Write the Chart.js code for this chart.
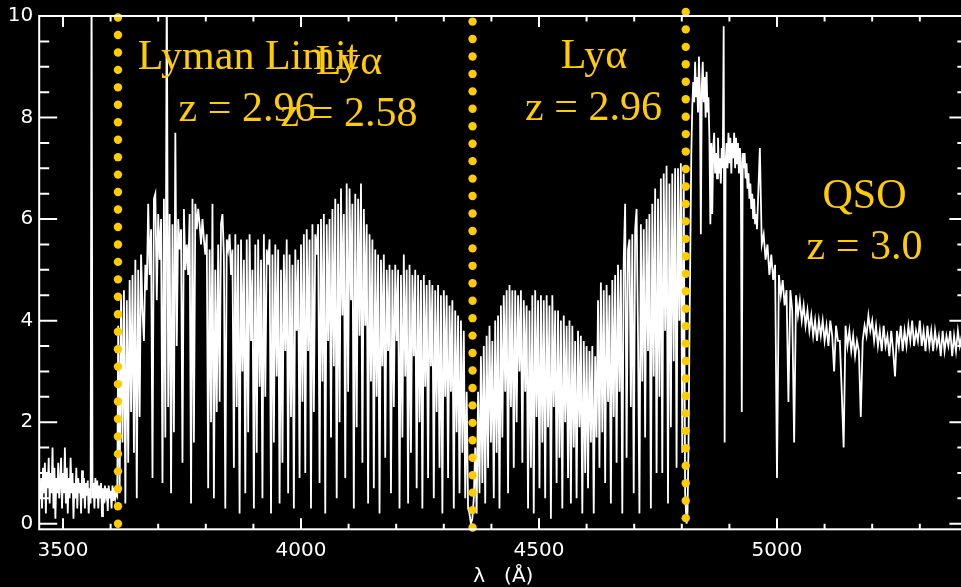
<!DOCTYPE html>
<html>
<head>
<meta charset="utf-8">
<title>QSO spectrum, z = 3.0</title>
<script src="https://cdn.jsdelivr.net/npm/chart.js@4.4.1/dist/chart.umd.min.js"></script>
<style>
	html, body { margin: 0; padding: 0; background: #000; overflow: hidden; }
	#spectrum { display: block; }
</style>
</head>
<body>
<canvas id="spectrum" width="975" height="587"></canvas>
<script>

// flux blueward of the Lyman limit, 2 A bins from 3452 A
var blueStart = 3452, blueStep = 2;
var fluxBlue = [
	0.5, 0.9, 0.3, 1.1, 0.6, 1.2, 0.2, 1.0, 0.7, 1.3,	// 3452
	0.4, 1.0, 0.6, 1.5, 0.3, 1.1, 0.1, 0.9, 0.6, 1.2,	// 3472
	0.5, 0.8, 1.3, 0.3, 1.0, 0.6, 1.5, 0.4, 1.1, 0.2,	// 3492
	0.9, 0.5, 1.3, 0.6, 1.0, 0.1, 0.8, 0.5, 1.1, 0.3,	// 3512
	0.9, 0.6, 0.8, 0.2, 1.05, 0.5, 0.9, 0.3, 0.8, 0.55,	// 3532
	0.85, 0.2, 0.7, 0.4, 11.0, 0.5, 0.8, 0.3, 0.9, 0.5,	// 3552
	0.85, 0.3, 0.75, 0.5, 0.8, 0.15, 0.7, 0.4, 0.75, 0.55,	// 3572
	0.7, 0.25, 0.75, 0.5, 0.65, 0.3, 0.75, 0.45, 0.7, 0.5,	// 3592
	0.6, 0.55	// 3612
];

// Lyman alpha forest, 3 A bins from 3616 A
var forestStart = 3616, forestStep = 3;
var fluxForest = [
	3.9, 0.6, 4.5, 1.6, 4.6, 0.4, 4.4, 1.2, 4.8, 2.2,	// 3616
	4.9, 1.4, 5.2, 0.5, 5.0, 2.1, 5.3, 4.2, 3.6, 5.1,	// 3646
	4.6, 6.3, 4.9, 5.8, 0.9, 6.4, 6.5, 4.4, 6.1, 5.2,	// 3676
	6.0, 0.8, 6.4, 1.7, 11.0, 2.3, 6.1, 0.6, 5.9, 1.8,	// 3706
	7.7, 3.5, 6.0, 5.4, 5.8, 1.2, 6.2, 5.0, 5.5, 4.9,	// 3736
	6.1, 0.4, 6.4, 1.6, 6.3, 5.8, 6.2, 5.9, 5.5, 6.0,	// 3766
	5.6, 5.3, 5.7, 0.7, 5.4, 2.0, 6.3, 0.5, 5.0, 2.2,	// 3796
	5.5, 2.4, 5.9, 6.1, 5.3, 0.3, 5.6, 5.4, 5.7, 4.9,	// 3826
	5.4, 1.1, 5.7, 2.3, 5.5, 0.2, 5.6, 3.0, 5.2, 0.6,	// 3856
	5.6, 1.8, 5.7, 3.6, 5.0, 0.3, 5.5, 1.4, 5.6, 2.7,	// 3886
	5.2, 0.5, 5.7, 2.5, 5.4, 5.1, 5.6, 0.2, 5.3, 1.6,	// 3916
	5.5, 2.9, 5.4, 0.4, 5.0, 1.2, 5.3, 3.4, 5.6, 0.6,	// 3946
	5.3, 2.1, 5.1, 0.3, 5.4, 3.8, 5.2, 0.9, 5.5, 2.4,	// 3976
	5.7, 1.0, 5.8, 3.4, 5.6, 0.3, 5.9, 2.2, 5.7, 5.3,	// 4006
	5.9, 0.8, 6.0, 2.8, 6.1, 0.2, 5.9, 3.6, 6.0, 1.7,	// 4036
	6.2, 3.1, 6.4, 0.5, 6.3, 2.0, 6.6, 4.1, 6.1, 0.9,	// 4066
	6.7, 2.6, 6.6, 4.4, 6.3, 0.3, 6.5, 1.9, 6.4, 3.7,	// 4096
	6.7, 1.2, 6.2, 3.9, 5.9, 0.4, 5.7, 2.8, 5.6, 0.7,	// 4126
	5.4, 2.5, 5.3, 0.2, 5.2, 3.1, 5.3, 1.3, 5.0, 3.4,	// 4156
	5.1, 0.6, 5.0, 2.3, 5.1, 3.6, 5.0, 0.3, 4.9, 1.7,	// 4186
	5.3, 2.9, 5.0, 0.4, 5.1, 1.4, 4.9, 3.3, 5.0, 0.7,	// 4216
	4.9, 2.0, 4.8, 0.3, 4.9, 2.7, 4.7, 0.9, 4.8, 3.1,	// 4246
	4.7, 0.5, 4.6, 2.2, 4.7, 1.1, 4.5, 0.2, 4.6, 2.5,	// 4276
	4.5, 0.9, 4.3, 2.6, 4.4, 0.3, 4.2, 1.8, 4.1, 0.6,	// 4306
	4.0, 1.4, 3.8, 0.5, 2.6, 0.3, 0.2, 0.0	// 4336
];

// between Ly alpha at z = 2.58 and the QSO's own Ly alpha, 3 A bins from 4360 A
var midStart = 4360, midStep = 3;
var fluxMid = [
	0.1, 0.5, 1.5, 0.2, 2.6, 0.6, 3.3, 0.8, 3.5, 0.4,	// 4360
	3.7, 1.1, 3.9, 1.6, 3.6, 0.5, 4.0, 1.4, 4.1, 0.3,	// 4390
	4.3, 1.7, 4.5, 2.6, 4.6, 0.6, 4.7, 2.3, 4.6, 1.1,	// 4420
	4.6, 2.0, 4.5, 3.0, 4.6, 1.2, 4.4, 2.6, 4.3, 0.3,	// 4450
	4.2, 1.1, 4.5, 0.2, 4.6, 2.1, 4.4, 0.7, 4.5, 1.6,	// 4480
	4.4, 0.5, 4.5, 1.9, 4.3, 0.1, 4.5, 2.3, 4.2, 0.8,	// 4510
	4.2, 1.3, 4.0, 0.3, 4.1, 2.0, 3.9, 0.9, 4.0, 0.4,	// 4540
	3.9, 1.5, 3.6, 0.5, 3.8, 1.9, 3.7, 0.2, 3.6, 1.0,	// 4570
	3.5, 0.7, 3.4, 1.6, 3.5, 0.2, 3.3, 1.7, 4.4, 1.1,	// 4600
	4.75, 1.8, 4.6, 0.8, 4.7, 2.4, 4.5, 0.4, 4.8, 2.1,	// 4630
	4.9, 1.2, 5.1, 2.6, 5.0, 0.2, 5.2, 6.3, 1.3, 5.4,	// 4660
	5.6, 2.3, 5.7, 0.6, 5.8, 6.2, 3.7, 0.2, 5.9, 2.8,	// 4690
	5.8, 1.7, 6.0, 3.4, 6.1, 0.3, 6.3, 2.9, 6.6, 1.0,	// 4720
	6.4, 2.5, 6.8, 1.0, 6.9, 3.8, 7.05, 0.4, 6.7, 1.9,	// 4750
	6.9, 3.2, 7.0, 1.1, 7.0, 4.0, 7.1, 1.4, 6.9, 0.6, 0.0	// 4780
];

// QSO Ly alpha emission peak, 2 A bins from 4812 A
var peakStart = 4812, peakStep = 2;
var fluxPeak = [
	0.2, 1.5, 3.6, 5.5, 7.3, 8.2, 8.7, 8.3, 9.1, 8.4,	// 4812
	8.8, 8.1, 9.2, 8.5, 5.7, 8.6, 9.1, 8.3, 8.8, 8.0,	// 4832
	8.9, 8.1, 8.4, 7.6, 5.9, 7.5, 6.1, 7.4, 7.7, 6.9,	// 4852
	7.3, 6.8, 7.6, 6.9, 7.2, 6.7, 7.4, 7.0, 9.8, 1.6,	// 4872
	7.1, 7.5, 7.0, 7.7, 7.1, 7.6, 6.9, 7.5, 7.2, 7.7,	// 4892
	7.0, 7.6, 7.1, 7.5, 6.9, 7.4, 7.1, 2.2, 7.3, 7.0,	// 4912
	7.3, 6.8, 7.1, 6.6, 6.9, 6.4, 6.7, 6.2, 6.5, 6.0,	// 4932
	6.4, 5.9, 6.1, 5.8	// 4952
];

// red continuum, 4 A bins from 4960 A
var redStart = 4960, redStep = 4;
var fluxRed = [
	5.8, 7.4, 5.5,	// 4960
	5.7, 5.2, 5.5, 4.9, 5.3, 4.8, 5.1, 0.9, 4.9, 4.5,	// 4972
	4.8, 4.3, 4.6, 2.4, 4.6, 4.2, 1.6, 4.5, 4.1, 4.4,	// 5012
	4.0, 4.3, 3.9, 4.2, 3.8, 4.1, 3.7, 4.0, 3.6, 4.0,	// 5052
	3.7, 4.0, 3.6, 3.9, 3.5, 4.0, 3.7, 3.0, 3.9, 3.6,	// 5092
	3.6, 2.6, 1.5, 3.9, 3.5, 3.8, 3.4, 3.7, 3.3, 3.6,	// 5132
	3.4, 2.1, 3.6, 3.9, 3.7, 4.1, 3.8, 4.0, 3.6, 3.9,	// 5172
	3.5, 3.8, 3.4, 3.9, 3.5, 3.7, 3.3, 3.8, 3.4, 2.9,	// 5212
	3.8, 3.5, 3.9, 3.4, 3.8, 3.5, 3.9, 3.6, 4.0, 3.5,	// 5252
	3.8, 3.6, 4.0, 3.5, 3.8, 3.4, 3.9, 3.5, 3.8, 3.4,	// 5292
	3.8, 3.5, 3.7, 3.3, 3.8, 3.4, 3.7, 3.5, 3.8, 3.3,	// 5332
	3.7, 3.4, 3.8, 3.5, 3.7, 3.4	// 5372
];

// dotted markers: Lyman limit (z = 2.96), Ly alpha (z = 2.58), Ly alpha (z = 2.96)
var markerWaves = [3615.5, 4360.4, 4808.3];
var markerLow = [0, -0.075, 0.11];
var markerHigh = [9.97, 9.89, 10.08];

var xTicks = [3500, 4000, 4500, 5000];
var yTicks = [0, 2, 4, 6, 8, 10];

var spectrum = [];

var addSegment = function(start, step, flux) {
	for (var i = 0; i < flux.length; i++) {
		spectrum.push({ x: start + i * step, y: flux[i] });
	}
};

addSegment(blueStart, blueStep, fluxBlue);
addSegment(forestStart, forestStep, fluxForest);
addSegment(midStart, midStep, fluxMid);
addSegment(peakStart, peakStep, fluxPeak);
addSegment(redStart, redStep, fluxRed);

// 30 evenly spaced dots for each marker
var DOTS = 30;
var markerDots = function(wave, low, high) {
	var pts = [];
	for (var k = 0; k < DOTS; k++) {
		pts.push({ x: wave, y: low + k * (high - low) / (DOTS - 1) });
	}
	return pts;
};

var gold = "#ffcc00";
var tickFont = { family: "DejaVu Sans", size: 20, lineHeight: 1 };

// markers go first so they are drawn over the spectrum
var datasets = [];
for (var m = 0; m < markerWaves.length; m++) {
	datasets.push({
		data: markerDots(markerWaves[m], markerLow[m], markerHigh[m]),
		showLine: false,
		pointRadius: 4.2,
		pointBorderWidth: 0,
		pointBackgroundColor: gold,
		clip: false
	});
}
datasets.push({
	data: spectrum,
	borderColor: "#ffffff",
	borderWidth: 1.8,
	pointRadius: 0,
	tension: 0
});

// labels placed in wavelength / flux coordinates
var notes = [
	{ text: "Lyman Limit", wave: 3888.6, flux: 8.955 },
	{ text: "z = 2.96", wave: 3886.6, flux: 7.94 },
	{ text: "Lyα", wave: 4100.8, flux: 8.85 },
	{ text: "z = 2.58", wave: 4100.8, flux: 7.84 },
	{ text: "Lyα", wave: 4615.5, flux: 8.975 },
	{ text: "z = 2.96", wave: 4614.5, flux: 7.96 },
	{ text: "QSO", wave: 5183.8, flux: 6.225 },
	{ text: "z = 3.0", wave: 5183.8, flux: 5.21 }
];

var notesPlugin = {
	id: "notes",
	afterDatasetsDraw: function(chart) {
		var ctx = chart.ctx;
		ctx.save();
		ctx.fillStyle = gold;
		ctx.font = '42px "Liberation Serif"';
		ctx.textAlign = "center";
		ctx.textBaseline = "alphabetic";
		notes.forEach(function(n) {
			ctx.fillText(n.text, chart.scales.x.getPixelForValue(n.wave), chart.scales.y.getPixelForValue(n.flux));
		});
		ctx.restore();
	}
};

// box round the plot with inward tick marks on all four sides
var framePlugin = {
	id: "frame",
	afterDraw: function(chart) {
		var ctx = chart.ctx;
		var a = chart.chartArea;
		var x = chart.scales.x, y = chart.scales.y;
		ctx.save();
		ctx.strokeStyle = "#ffffff";
		ctx.lineWidth = 2;
		ctx.strokeRect(a.left, a.top, a.right - a.left, a.bottom - a.top);
		ctx.beginPath();
		for (var w = 3500; w <= 5400; w += 100) {
			var px = x.getPixelForValue(w);
			var len = (w % 500 === 0) ? 11 : 5.5;
			ctx.moveTo(px, a.bottom); ctx.lineTo(px, a.bottom - len);
			ctx.moveTo(px, a.top); ctx.lineTo(px, a.top + len);
		}
		for (var f = 0; f <= 10; f += 0.5) {
			var py = y.getPixelForValue(f);
			var ylen = (f % 2 === 0) ? 18 : 10;
			ctx.moveTo(a.left, py); ctx.lineTo(a.left + ylen, py);
			ctx.moveTo(a.right, py); ctx.lineTo(a.right - ylen, py);
		}
		ctx.stroke();
		ctx.restore();
	}
};

var context = document.getElementById("spectrum").getContext("2d");
var spectrumChart = new Chart(context, {
	type: "line",
	data: { datasets: datasets },
	options: {
		responsive: false,
		animation: false,
		devicePixelRatio: 1,
		events: [],
		parsing: false,
		layout: { padding: { top: 11.6, right: 7.6, left: 0, bottom: 0 } },
		plugins: {
			legend: { display: false },
			tooltip: { enabled: false }
		},
		scales: {
			x: {
				type: "linear",
				min: 3450,
				max: 5400,
				grid: { display: false, drawTicks: false },
				border: { display: false },
				afterBuildTicks: function(scale) {
					scale.ticks = xTicks.map(function(v) { return { value: v }; });
				},
				afterFit: function(scale) { scale.height = 57.7; },
				ticks: {
					color: "#ffffff",
					font: tickFont,
					padding: 11,
					maxRotation: 0,
					autoSkip: false,
					callback: function(v) { return String(v); }
				},
				title: {
					display: true,
					text: "λ   (Å)",
					color: "#ffffff",
					font: tickFont,
					padding: 0
				}
			},
			y: {
				type: "linear",
				min: -0.11,
				max: 10,
				grid: { display: false, drawTicks: false },
				border: { display: false },
				afterBuildTicks: function(scale) {
					scale.ticks = yTicks.map(function(v) { return { value: v }; });
				},
				afterFit: function(scale) { scale.width = 39.2; },
				ticks: {
					color: "#ffffff",
					font: tickFont,
					padding: 6,
					autoSkip: false,
					callback: function(v) { return String(v); }
				}
			}
		}
	},
	plugins: [notesPlugin, framePlugin]
});

</script>
</body>
</html>
